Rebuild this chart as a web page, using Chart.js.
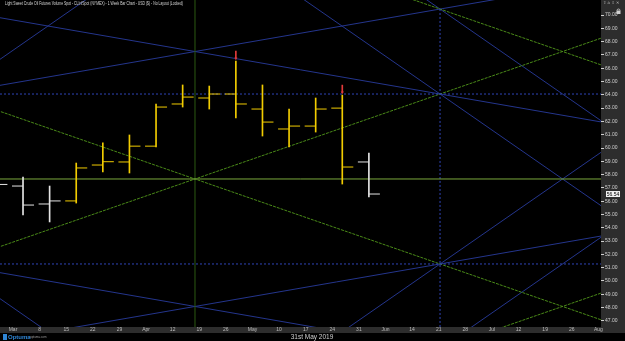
<!DOCTYPE html>
<html>
<head>
<meta charset="utf-8">
<script src="https://cdn.jsdelivr.net/npm/chart.js@4/dist/chart.umd.min.js"></script>
<style>
html, body { margin: 0; padding: 0; background: #000; }
canvas { display: block; }
</style>
</head>
<body>
<canvas id="myChart" width="625" height="341"></canvas>
<script>
var titleText = 'Light Sweet Crude Oil Futures Volume Spot - CLInfSpot (NYMEX) - 1 Week Bar Chart - USD ($) - No Layout (Locked)';
var captionText = '31st May 2019';

// semanas (0 = semana del 1 de marzo de 2019)
var weeks  = [-1, 0, 1, 2, 3, 4, 5, 6, 7, 8, 9, 10, 11, 12, 13];
var opens  = [55.60, 57.14, 55.79, 56.02, 58.72, 58.95, 60.14, 63.31, 63.76, 64.06, 62.93, 61.43, 61.65, 63.00, 58.95];
var highs  = [57.80, 57.82, 57.14, 58.87, 60.38, 60.98, 63.31, 64.74, 64.66, 66.54, 64.74, 62.93, 63.76, 63.98, 59.62];
var lows   = [55.30, 54.96, 54.44, 55.86, 58.20, 58.12, 60.08, 63.08, 62.93, 62.26, 60.90, 60.08, 61.20, 57.29, 56.32];
var closes = [57.26, 55.71, 56.02, 58.50, 58.97, 60.14, 63.08, 63.83, 64.06, 63.31, 61.95, 61.65, 62.93, 58.57, 56.54];
var barKind = ['white', 'white', 'white', 'yellow', 'yellow', 'yellow', 'yellow', 'yellow', 'yellow', 'yellow', 'yellow', 'yellow', 'yellow', 'yellow', 'white'];
var markerWeeks = [8, 12];

// etiquetas del eje de tiempo
var xLabels = ['Mar', '8', '15', '22', '29', 'Apr', '12', '19', '26', 'May', '10', '17', '24', '31', 'Jun', '14', '21', '28', 'Jul', '12', '19', '26', 'Aug'];

// rejilla de Gann: origen [semana, precio] y paso [semanas, precio]
var gannOrigin = [6.84, 57.67];
var gannStep = [9.21, 6.39];
// lineas [t1, p1, t2, p2] en unidades de la rejilla
var greenLines = [[0, 0, 1, 1], [0, 0, 1, -1], [1, 2, 2, 1], [1, -2, 2, -1]];
var blueLines = [[1, 2, 0, 1.5], [1, 1, 0, 1.5], [1, -1, 0, -1.5], [1, -2, 0, -1.5],
                 [-1, 1, 0, 3], [-1, -1, 0, -3], [1, 1, 0, 3], [1, -1, 0, -3],
                 [1, 2, 2, 0], [1, -2, 2, 0]];
var blueLevels = [-1, 1];

var colors = { white: '#e4e4e4', yellow: '#f2cc00' };
var barShift = 0.376;
var tickHalf = 0.207;

function gannPoint(t, p) {
    return { x: gannOrigin[0] + t * gannStep[0], y: gannOrigin[1] + p * gannStep[1] };
}

function fullLine(l) {
    var a = gannPoint(l[0], l[1]), b = gannPoint(l[2], l[3]);
    var m = (b.y - a.y) / (b.x - a.x);
    return [{ x: -5, y: a.y + m * (-5 - a.x) }, { x: 30, y: a.y + m * (30 - a.x) }];
}

function lineSet(data, color, dash) {
    return { type: 'line', data: data, borderColor: color, borderWidth: 1, borderDash: dash || [], pointRadius: 0, fill: false, tension: 0 };
}

var barColors = barKind.map(function (k) { return colors[k]; });
var datasets = [];

// flechas rojas sobre los maximos
datasets.push({
    type: 'bar', grouped: false, barThickness: 1, backgroundColor: '#e23a3a',
    data: markerWeeks.map(function (w) { var i = weeks.indexOf(w); return { x: w + barShift, y: [highs[i] + 0.2, highs[i] + 0.75] }; })
});
datasets.push({
    type: 'scatter', pointStyle: 'triangle', rotation: 180, pointRadius: 1.8,
    backgroundColor: '#e23a3a', borderColor: '#e23a3a', borderWidth: 0,
    data: markerWeeks.map(function (w) { var i = weeks.indexOf(w); return { x: w + barShift, y: highs[i] + 0.2 }; })
});

// apertura (izquierda) y cierre (derecha)
datasets.push({
    type: 'scatter', pointStyle: 'line', pointRadius: 5.5, pointBorderWidth: 1, pointBorderColor: barColors,
    data: weeks.map(function (w, i) { return { x: w + barShift - tickHalf, y: opens[i] }; })
});
datasets.push({
    type: 'scatter', pointStyle: 'line', pointRadius: 5.5, pointBorderWidth: 1, pointBorderColor: barColors,
    data: weeks.map(function (w, i) { return { x: w + barShift + tickHalf, y: closes[i] }; })
});

// rango maximo-minimo
datasets.push({
    type: 'bar', grouped: false, barThickness: 1, backgroundColor: barColors,
    data: weeks.map(function (w, i) { return { x: w + barShift, y: [lows[i], highs[i]] }; })
});

// lineas de Gann
datasets.push(lineSet([{ x: -5, y: gannOrigin[1] }, { x: 30, y: gannOrigin[1] }], '#7aa83c'));
datasets.push(lineSet([{ x: gannOrigin[0], y: 30 }, { x: gannOrigin[0], y: 90 }], '#2c5a12'));
var vb = gannPoint(1, 2);
datasets.push(lineSet([{ x: vb.x, y: 30 }, { x: vb.x, y: vb.y }], '#2f45b8', [2, 2]));
blueLevels.forEach(function (p) {
    var y = gannPoint(0, p).y;
    datasets.push(lineSet([{ x: -5, y: y }, { x: 30, y: y }], '#2f45b8', [2, 2]));
});
greenLines.forEach(function (l) { datasets.push(lineSet(fullLine(l), '#4a8a18', [3, 1])); });
blueLines.forEach(function (l) { datasets.push(lineSet(fullLine(l), '#24358c')); });

var overlay = {
    id: 'overlay',
    beforeDraw: function (chart) {
        var ctx = chart.ctx, a = chart.chartArea;
        ctx.save();
        ctx.fillStyle = '#2d2d2d';
        ctx.fillRect(a.right, 0, chart.width - a.right, a.bottom + 6);
        ctx.fillRect(0, a.bottom, a.right, 6);
        ctx.restore();
    },
    afterDraw: function (chart) {
        var ctx = chart.ctx, a = chart.chartArea;
        ctx.save();
        ctx.textBaseline = 'middle';
        ctx.fillStyle = '#d6d6d6';
        ctx.font = '5px Arial';
        ctx.fillText(titleText, 5, 3.5, 178);

        // iconos del panel derecho
        ctx.fillStyle = '#bdbdbd';
        ctx.font = '4px DejaVu Sans';
        ctx.fillText('\u21e7 \u2302 \u21e9 \u2715', a.right + 2, 2.5);
        ctx.strokeStyle = '#d0d0d0';
        ctx.lineWidth = 0.8;
        ctx.beginPath();
        ctx.arc(a.right + 17.5, 10.5, 1.5, Math.PI, 0);
        ctx.stroke();
        ctx.fillStyle = '#d0d0d0';
        ctx.fillRect(a.right + 15.5, 10.5, 4, 3.5);

        ctx.fillStyle = '#cfcfcf';
        ctx.font = '6.5px Arial';
        ctx.textAlign = 'center';
        ctx.fillText(captionText, 312, 337.5);

        // logo
        ctx.textAlign = 'left';
        ctx.fillStyle = '#2f86d6';
        ctx.fillRect(3, 334, 4, 6);
        ctx.font = 'bold 6px Arial';
        ctx.fillText('Optuma', 8, 337.5);
        ctx.fillStyle = '#9a9a9a';
        ctx.font = '3px Arial';
        ctx.fillText('optuma.com', 30, 337);

        // caja del ultimo precio
        var last = closes[closes.length - 1];
        var py = chart.scales.y.getPixelForValue(last);
        ctx.fillStyle = '#f2f2f2';
        ctx.fillRect(a.right + 5, py - 3, 14, 6);
        ctx.fillStyle = '#000';
        ctx.font = '5px Arial';
        ctx.textAlign = 'center';
        ctx.fillText(last.toFixed(2), a.right + 12, py + 0.3);
        ctx.restore();
    }
};

Chart.defaults.font.family = 'Arial';

var ctx = document.getElementById('myChart').getContext('2d');
var chart = new Chart(ctx, {
    type: 'scatter',
    data: { datasets: datasets },
    options: {
        responsive: false,
        animation: false,
        events: [],
        layout: { autoPadding: false, padding: { left: 0, right: 0, top: 0, bottom: 8 } },
        plugins: { legend: { display: false }, tooltip: { enabled: false } },
        scales: {
            x: {
                type: 'linear', min: -0.489, max: 22.1, offset: false,
                afterFit: function (s) { s.height = 6; s.paddingLeft = 0; s.paddingRight = 0; },
                border: { display: false },
                grid: { display: false, drawTicks: false },
                ticks: {
                    stepSize: 1, includeBounds: false, autoSkip: false, maxRotation: 0, padding: 0,
                    color: '#bdbdbd', font: { size: 5 },
                    callback: function (v) { return xLabels[v]; }
                }
            },
            y: {
                type: 'linear', position: 'right', min: 46.54, max: 71.13,
                afterFit: function (s) { s.width = 24; s.paddingTop = 0; s.paddingBottom = 0; },
                border: { display: false },
                grid: { drawOnChartArea: false, drawTicks: true, tickLength: 3, color: '#cfcfcf' },
                ticks: {
                    stepSize: 1, includeBounds: false, autoSkip: false, padding: 1,
                    color: '#d0d0d0', font: { size: 5 },
                    callback: function (v) { return v > 70 ? null : v.toFixed(2); }
                }
            }
        }
    },
    plugins: [overlay]
});
</script>
</body>
</html>
